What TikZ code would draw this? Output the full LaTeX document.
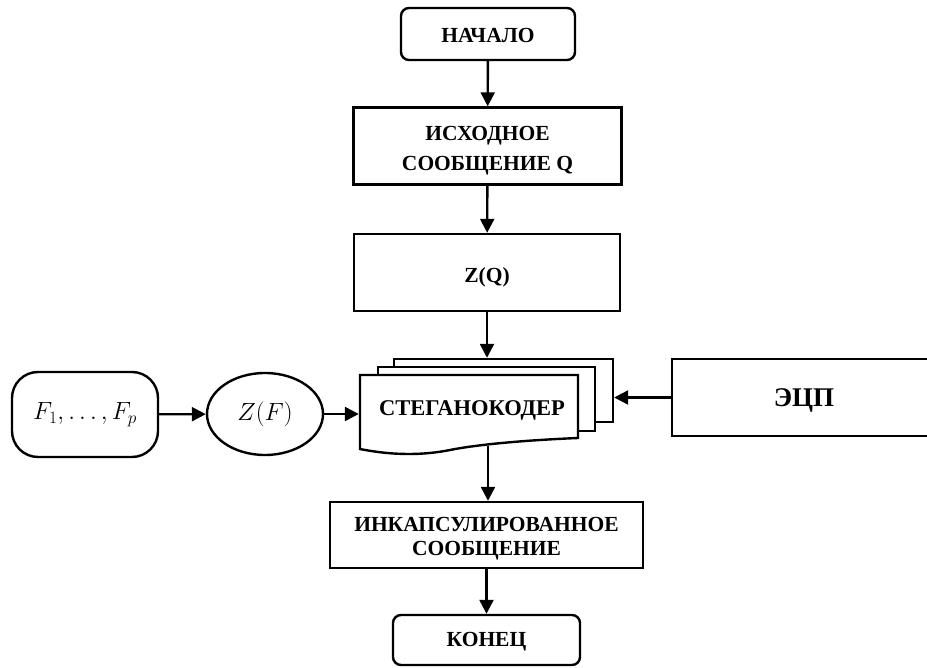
\documentclass[tikz,border=0pt]{standalone}
\usepackage{fontspec}
\setmainfont{Liberation Serif}
\usetikzlibrary{arrows.meta,shapes.geometric}
\begin{document}
\begin{tikzpicture}[x=1pt,y=-1pt,
  line width=2.4pt,
  box/.style={draw,rectangle,inner sep=0pt},
  rbox/.style={box,rounded corners=8pt},
  txt/.style={inner sep=0pt,align=center,font=\fontsize{21.5}{25}\selectfont\bfseries},
  arr/.style={-{Triangle[length=14pt,width=14pt]},line width=2.4pt}]
\useasboundingbox (0,0) rectangle (927,668);
\node[rbox,minimum width=174pt,minimum height=52pt] (start) at (488,34) {};
\node[txt] (starttext) at (488,35) {НАЧАЛО};
\node[box,minimum width=268pt,minimum height=77pt] (src) at (487.5,146) {};
\node[txt,font=\fontsize{21.5}{30}\selectfont\bfseries] (srctext) at (487.5,151) {ИСХОДНОЕ\\СООБЩЕНИЕ Q};
\node[box,minimum width=266pt,minimum height=77pt] (zq) at (487,272.5) {};
\node[txt] (zqtext) at (487,277) {Z(Q)};
% stacked documents
\node[draw,fill=white,rectangle,minimum width=219pt,minimum height=63pt] (stback) at (503.5,390.5) {};
\node[draw,fill=white,rectangle,minimum width=217pt,minimum height=64pt] (stmid) at (486.5,399) {};
\draw[fill=white,line join=miter] (360,375) -- (578,375) -- (578,438)
  .. controls (530,440) and (480,444) .. (450,450)
  .. controls (425,455) and (395,456) .. (360,449) -- cycle;
\node[inner sep=0pt,minimum width=218pt,minimum height=63pt] (steg) at (469,406.5) {};
\node[txt,font=\fontsize{22.5}{26}\selectfont\bfseries] (stegtext) at (472,410) {СТЕГАНОКОДЕР};
\coordinate (wavept) at (488,446);
\node[box,minimum width=262pt,minimum height=77pt,anchor=west] (ecp) at (671,397.5) {};
\node[txt,font=\fontsize{27}{32}\selectfont\bfseries] (ecptext) at (804,400) {ЭЦП};
\node[box,minimum width=313pt,minimum height=66pt] (enc) at (486.5,535) {};
\node[txt,font=\fontsize{21.5}{24}\selectfont\bfseries] (enctext) at (486.5,539) {ИНКАПСУЛИРОВАННОЕ\\СООБЩЕНИЕ};
\node[rbox,minimum width=187pt,minimum height=50pt] (end) at (486.5,640) {};
\node[txt] (endtext) at (486.5,642) {КОНЕЦ};
\node[draw,rectangle,rounded corners=26pt,minimum width=146pt,minimum height=85pt,font=\fontsize{23}{28}\selectfont] (fin) at (85,414.5) {$F_1,\dots,F_p$};
\node[draw,ellipse,inner sep=0pt,minimum width=116pt,minimum height=82pt,font=\fontsize{24}{28}\selectfont] (zf) at (265,414) {$Z(F)$};
% connectors
\draw[arr] (start) -- (src);
\draw[arr] (src) -- (zq);
\draw[arr] (zq.south) -- (zq.south |- stback.north);
\draw[arr] (ecp.west) -- (ecp.west -| stback.east);
\draw[arr] (fin) -- (zf);
\draw[arr] (zf.east) -- (zf.east -| steg.west);
\draw[arr] (wavept) -- (wavept |- enc.north);
\draw[arr] (enc) -- (end);
\end{tikzpicture}
\end{document}
